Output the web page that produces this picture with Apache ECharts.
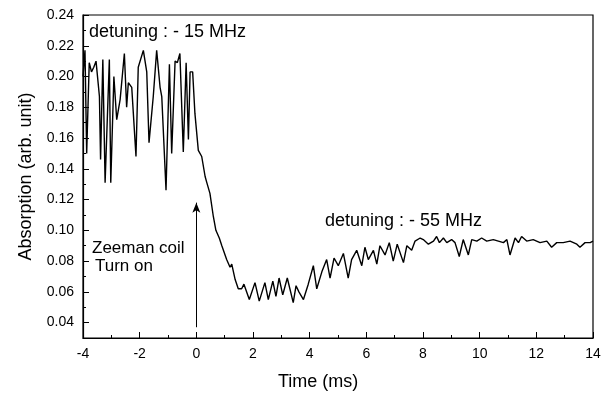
<!DOCTYPE html>
<html><head><meta charset="utf-8">
<script src="https://cdn.jsdelivr.net/npm/echarts@6/dist/echarts.min.js"></script>
<style>html,body{margin:0;padding:0;background:#fff}#c{width:609px;height:398px}</style>
</head><body><div id="c"></div>
<script>
const timeMs = [-4.0,-3.93,-3.87,-3.78,-3.70,-3.62,-3.54,-3.42,-3.38,-3.30,-3.22,-3.07,-3.02,-2.91,-2.81,-2.69,-2.54,-2.46,-2.40,-2.28,-2.13,-2.05,-1.87,-1.75,-1.67,-1.52,-1.40,-1.28,-1.22,-1.07,-0.95,-0.87,-0.75,-0.67,-0.58,-0.46,-0.36,-0.28,-0.22,-0.13,-0.05,0.07,0.19,0.31,0.37,0.48,0.60,0.69,0.81,0.90,1.07,1.19,1.25,1.37,1.48,1.60,1.68,1.87,2.07,2.22,2.42,2.54,2.70,2.81,2.92,3.05,3.21,3.42,3.52,3.62,3.78,3.95,4.13,4.25,4.43,4.60,4.72,4.86,5.01,5.19,5.36,5.48,5.66,5.84,5.95,6.07,6.25,6.37,6.48,6.66,6.81,6.95,7.09,7.31,7.43,7.60,7.72,7.90,8.01,8.19,8.37,8.48,8.58,8.72,8.84,9.01,9.13,9.28,9.42,9.60,9.72,9.90,10.07,10.25,10.48,10.66,10.84,10.96,11.07,11.25,11.37,11.48,11.66,11.89,12.13,12.37,12.54,12.72,12.95,13.19,13.43,13.54,13.72,13.90,14.0];
const absorption = [0.200,0.217,0.150,0.209,0.203,0.206,0.210,0.187,0.146,0.211,0.131,0.211,0.131,0.200,0.172,0.185,0.215,0.180,0.196,0.193,0.148,0.206,0.217,0.203,0.157,0.187,0.217,0.193,0.187,0.126,0.208,0.150,0.210,0.209,0.215,0.151,0.209,0.159,0.203,0.203,0.176,0.152,0.148,0.135,0.131,0.124,0.109,0.100,0.095,0.090,0.081,0.076,0.078,0.068,0.062,0.062,0.065,0.055,0.066,0.054,0.066,0.055,0.067,0.057,0.069,0.058,0.069,0.053,0.064,0.060,0.055,0.065,0.077,0.062,0.073,0.081,0.069,0.082,0.077,0.085,0.069,0.081,0.087,0.077,0.089,0.081,0.087,0.078,0.090,0.084,0.092,0.080,0.091,0.079,0.090,0.087,0.093,0.095,0.094,0.091,0.093,0.096,0.092,0.095,0.092,0.094,0.092,0.083,0.094,0.084,0.094,0.093,0.095,0.093,0.094,0.093,0.092,0.094,0.084,0.095,0.092,0.096,0.093,0.094,0.092,0.093,0.089,0.092,0.092,0.093,0.091,0.089,0.092,0.092,0.093];
const yMajorTicks = [0.04,0.06,0.08,0.10,0.12,0.14,0.16,0.18,0.20,0.22,0.24];
const yMinorTicks = [0.03,0.05,0.07,0.09,0.11,0.13,0.15,0.17,0.19,0.21,0.23];
const arrowFrom = [0, 0.037];
const arrowTo = [0, 0.118];

const FONT = 'Liberation Sans';
const chart = echarts.init(document.getElementById('c'), null, {renderer: 'canvas'});
const yBase = {type:'value', min:0.03, max:0.24, interval:0.01, splitLine:{show:false}};
chart.setOption({
  animation:false,
  grid:{left:83, right:16, top:15, bottom:60, show:true, borderColor:'#000', borderWidth:1.2},
  xAxis:{type:'value', min:-4, max:14, interval:2,
    axisLine:{onZero:false, lineStyle:{color:'#000', width:1.2}},
    axisTick:{inside:true, length:6, lineStyle:{color:'#000'}},
    minorTick:{show:true, splitNumber:2, length:3, lineStyle:{color:'#000'}},
    axisLabel:{fontFamily:FONT, fontSize:14, color:'#000', margin:9},
    splitLine:{show:false}},
  yAxis:[
    Object.assign({}, yBase, {
      name:'Absorption (arb. unit)', nameLocation:'middle', nameGap:48,
      nameTextStyle:{fontFamily:FONT, fontSize:18, color:'#000'},
      axisLine:{onZero:false, lineStyle:{color:'#000', width:1.2}},
      axisTick:{inside:true, length:6, customValues:yMajorTicks, lineStyle:{color:'#000'}},
      axisLabel:{fontFamily:FONT, fontSize:14, color:'#000', margin:9, customValues:yMajorTicks,
        formatter:v=>v.toFixed(2)}
    }),
    Object.assign({}, yBase, {
      position:'left', axisLine:{show:false, onZero:false},
      axisTick:{inside:true, length:3, customValues:yMinorTicks, lineStyle:{color:'#000'}},
      axisLabel:{show:false}
    })
  ],
  series:[{
    type:'line', data:timeMs.map((t,i)=>[t, absorption[i]]), showSymbol:false,
    lineStyle:{color:'#000', width:1.4}, z:3,
    markLine:{silent:true, symbol:['none','arrow'], symbolSize:[6,10],
      lineStyle:{color:'#000', width:1, type:'solid'}, label:{show:false},
      data:[[{coord:arrowFrom},{coord:arrowTo}]]}
  }],
  graphic:[
    {type:'text', left:89, top:23, style:{text:'detuning : - 15 MHz', font:'18px "Liberation Sans"', fill:'#000'}},
    {type:'text', left:325, top:212, style:{text:'detuning : - 55 MHz', font:'18px "Liberation Sans"', fill:'#000'}},
    {type:'text', left:92, top:240, style:{text:'Zeeman coil', font:'17px "Liberation Sans"', fill:'#000'}},
    {type:'text', left:95, top:258, style:{text:'Turn on', font:'17px "Liberation Sans"', fill:'#000'}},
    {type:'text', left:278, top:373, style:{text:'Time (ms)', font:'18px "Liberation Sans"', fill:'#000'}}
  ]
});
</script></body></html>
